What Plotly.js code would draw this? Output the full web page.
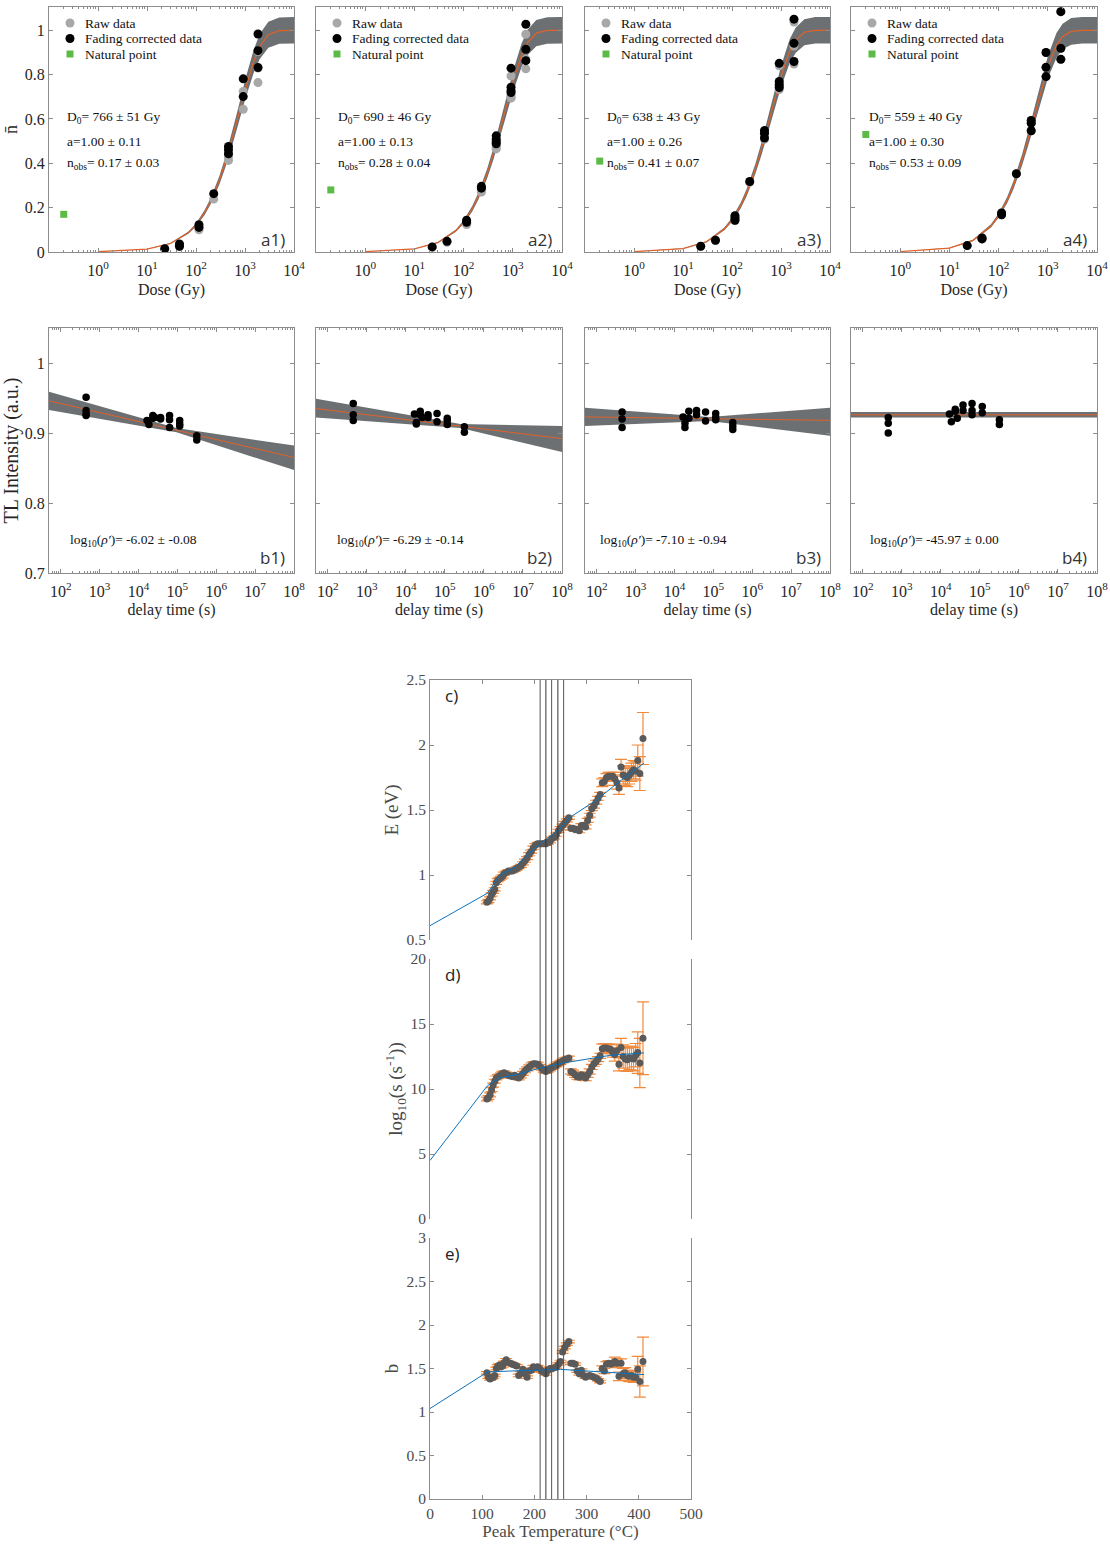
<!DOCTYPE html>
<html><head><meta charset="utf-8">
<script src="https://cdn.plot.ly/plotly-3.0.1.min.js"></script>
<style>html,body{margin:0;padding:0;background:#fff}</style>
</head><body><div id="chart" style="width:1110px;height:1544px"></div>
<script>
// ================= DATA =================
const doseTicks = [1, 10, 100, 1000, 10000];
const doseTickText = ['10<sup>0</sup>','10<sup>1</sup>','10<sup>2</sup>','10<sup>3</sup>','10<sup>4</sup>'];
const delayTicks = [1e2, 1e3, 1e4, 1e5, 1e6, 1e7, 1e8];
const delayTickText = ['10<sup>2</sup>','10<sup>3</sup>','10<sup>4</sup>','10<sup>5</sup>','10<sup>6</sup>','10<sup>7</sup>','10<sup>8</sup>'];

// dose response (a1-a4)
const a1Dose = [23,46,46,115,115,230,460,460,460,920,920,1840,1840,1840];
const a1Corr = [0.015,0.036,0.026,0.123,0.111,0.263,0.476,0.461,0.443,0.781,0.701,0.983,0.908,0.832];
const a1Raw  = [0.013,0.033,0.024,0.112,0.100,0.239,0.441,0.428,0.413,0.724,0.644,0.904,0.830,0.764];
const a2Dose = [23,46,115,115,230,230,460,460,460,460,920,920,920,920,1840,1840,1840];
const a2Corr = [0.023,0.048,0.143,0.134,0.296,0.288,0.524,0.509,0.498,0.488,0.829,0.743,0.728,0.719,1.027,0.914,0.863];
const a2Raw  = [0.021,0.044,0.130,0.124,0.278,0.270,0.490,0.480,0.470,0.465,0.794,0.710,0.700,0.694,0.982,0.870,0.826];
const a3Dose = [23,46,115,115,115,230,460,460,460,920,920,920,920,1840,1840,1840];
const a3Corr = [0.026,0.053,0.164,0.153,0.143,0.318,0.548,0.536,0.514,0.851,0.769,0.754,0.742,1.050,0.941,0.859];
const a3Raw  = [0.025,0.052,0.162,0.151,0.141,0.314,0.541,0.529,0.508,0.840,0.759,0.745,0.733,1.037,0.929,0.848];
const a4Dose = [23,46,46,115,115,230,460,460,460,920,920,920,1840,1840,1840];
const a4Corr = [0.029,0.063,0.059,0.176,0.168,0.353,0.593,0.581,0.547,0.900,0.833,0.791,1.084,0.919,0.869];
const a4Raw  = [0.029,0.063,0.059,0.176,0.168,0.353,0.593,0.581,0.547,0.900,0.833,0.791,1.084,0.919,0.869];
const naturalDose = [0.2, 0.2, 0.2, 0.2];
const naturalN = [0.17, 0.28, 0.41, 0.53];

const fitDose = [1,10,30,70,100,150,200,300,400,500,700,1000,1500,2000,3000,5000,10000];
const a1Fit = [0.0013,0.013,0.0384,0.0873,0.122,0.178,0.230,0.324,0.407,0.479,0.599,0.729,0.859,0.927,0.980,0.9985,1.0];
const a1Hi  = [0.0014,0.014,0.041,0.093,0.129,0.189,0.244,0.343,0.431,0.508,0.635,0.773,0.911,0.983,1.039,1.058,1.06];
const a1Lo  = [0.0012,0.012,0.036,0.082,0.115,0.167,0.216,0.305,0.383,0.450,0.563,0.685,0.807,0.871,0.921,0.939,0.94];
const a2Fit = [0.0014,0.0144,0.0426,0.0965,0.135,0.195,0.252,0.353,0.440,0.515,0.637,0.765,0.886,0.945,0.987,0.9993,1.0];
const a2Hi  = [0.0015,0.015,0.045,0.102,0.143,0.207,0.267,0.374,0.466,0.546,0.675,0.811,0.939,1.002,1.046,1.059,1.06];
const a2Lo  = [0.0013,0.014,0.040,0.091,0.127,0.183,0.237,0.332,0.414,0.484,0.599,0.719,0.833,0.888,0.928,0.939,0.94];
const a3Fit = [0.0016,0.0156,0.0459,0.104,0.145,0.209,0.269,0.375,0.466,0.543,0.666,0.791,0.905,0.956,0.991,0.9996,1.0];
const a3Hi  = [0.0017,0.017,0.049,0.110,0.154,0.222,0.285,0.398,0.494,0.576,0.706,0.838,0.959,1.013,1.050,1.06,1.06];
const a3Lo  = [0.0015,0.015,0.043,0.098,0.136,0.196,0.253,0.353,0.438,0.510,0.626,0.744,0.851,0.899,0.932,0.94,0.94];
const a4Fit = [0.0018,0.0177,0.0523,0.118,0.164,0.235,0.301,0.415,0.511,0.591,0.714,0.833,0.932,0.972,0.995,0.9999,1.0];
const a4Hi  = [0.0019,0.019,0.055,0.125,0.174,0.249,0.319,0.440,0.542,0.626,0.757,0.883,0.988,1.030,1.055,1.06,1.06];
const a4Lo  = [0.0017,0.017,0.049,0.111,0.154,0.221,0.283,0.390,0.480,0.556,0.671,0.783,0.876,0.914,0.935,0.94,0.94];

const aStats = [
  ['D<sub>0</sub>= 766 ± 51 Gy','a=1.00 ± 0.11','n<sub>obs</sub>= 0.17 ± 0.03'],
  ['D<sub>0</sub>= 690 ± 46 Gy','a=1.00 ± 0.13','n<sub>obs</sub>= 0.28 ± 0.04'],
  ['D<sub>0</sub>= 638 ± 43 Gy','a=1.00 ± 0.26','n<sub>obs</sub>= 0.41 ± 0.07'],
  ['D<sub>0</sub>= 559 ± 40 Gy','a=1.00 ± 0.30','n<sub>obs</sub>= 0.53 ± 0.09']
];
const aLabels = ['a1)','a2)','a3)','a4)'];
const legendNames = ['Raw data','Fading corrected data','Natural point'];

// fading (b1-b4)
const b1T = [450,450,450,450,16600,18600,23400,23400,26300,37000,37000,63000,63000,63000,115000,115000,115000,316000,316000];
const b1I = [0.951,0.932,0.927,0.925,0.918,0.912,0.925,0.921,0.922,0.922,0.920,0.925,0.919,0.908,0.918,0.913,0.910,0.896,0.890];
const b2T = [450,450,450,16600,18600,18600,23400,23400,26300,37000,37000,63000,63000,115000,115000,115000,316000,316000];
const b2I = [0.942,0.926,0.918,0.927,0.915,0.913,0.931,0.926,0.922,0.926,0.922,0.928,0.916,0.921,0.918,0.912,0.909,0.901];
const b3T = [450,450,450,16600,18600,18600,23400,23400,37000,37000,63000,63000,115000,115000,115000,316000,316000,316000];
const b3I = [0.930,0.920,0.908,0.923,0.914,0.908,0.931,0.921,0.932,0.926,0.930,0.917,0.928,0.922,0.919,0.915,0.910,0.905];
const b4T = [450,450,450,16600,18600,23400,23400,26300,37000,37000,63000,63000,63000,115000,115000,316000,316000];
const b4I = [0.922,0.914,0.900,0.927,0.916,0.934,0.931,0.921,0.940,0.932,0.942,0.932,0.926,0.938,0.929,0.919,0.912];
const bFitT = [50, 1e8];
const b1Fit = [0.946, 0.865];
const b2Fit = [0.935, 0.892];
const b3Fit = [0.923, 0.918];
const b4Fit = [0.926, 0.926];
const b1BandT = [50, 95000, 1e8];   const b1Hi = [0.959,0.907,0.882]; const b1Lo = [0.933,0.901,0.847];
const b2BandT = [50, 250000, 1e8];  const b2Hi = [0.949,0.913,0.910]; const b2Lo = [0.922,0.907,0.873];
const b3BandT = [50, 80000, 1e8];   const b3Hi = [0.936,0.923,0.936]; const b3Lo = [0.910,0.917,0.896];
const b4BandT = [50, 1e8];          const b4Hi = [0.930,0.930];       const b4Lo = [0.922,0.922];
const bStats = ['-6.02 ± -0.08','-6.29 ± -0.14','-7.10 ± -0.94','-45.97 ± 0.00'];
const bLabels = ['b1)','b2)','b3)','b4)'];

// kinetic parameters vs peak temperature (c, d, e)
const peakT = [109,112,115,118,121,124,127,130,133,136,139,142,
  146,150,154,158,162,166,170,174,178,182,186,190,194,198,202,206,210,214,218,222,226,230,234,238,
  242,246,250,254,258,262,266,270,274,278,282,286,290,294,298,302,306,310,314,318,322,326,330,334,
  338,342,346,350,354,358,362,366,370,374,378,382,386,390,394,398,402,408];
const energyE = [0.79,0.80,0.82,0.85,0.87,0.89,0.94,0.96,0.97,0.98,0.99,1.01,
  1.02,1.03,1.03,1.03,1.04,1.05,1.06,1.07,1.09,1.11,1.13,1.16,1.18,1.21,1.23,1.24,1.24,1.24,1.24,1.24,1.25,1.26,1.28,1.29,
  1.31,1.34,1.36,1.38,1.40,1.42,1.44,1.36,1.36,1.35,1.35,1.34,1.38,1.38,1.37,1.42,1.46,1.51,1.53,1.56,1.59,1.62,1.71,1.72,
  1.75,1.76,1.76,1.76,1.74,1.71,1.67,1.83,1.77,1.76,1.75,1.77,1.79,1.81,1.80,1.88,1.78,2.05];
const energyErr = [0.012,0.012,0.012,0.012,0.012,0.012,0.012,0.012,0.012,0.012,0.012,0.012,
  0.012,0.012,0.012,0.012,0.012,0.012,0.012,0.012,0.012,0.012,0.012,0.012,0.012,0.012,0.012,0.012,0.012,0.012,0.012,0.012,0.012,0.012,0.012,0.012,
  0.012,0.012,0.012,0.012,0.012,0.012,0.012,0.015,0.015,0.015,0.015,0.015,0.015,0.015,0.015,0.015,0.015,0.015,0.015,0.015,0.015,0.015,0.03,0.03,
  0.03,0.03,0.03,0.03,0.05,0.05,0.05,0.06,0.07,0.07,0.07,0.07,0.07,0.07,0.07,0.12,0.13,0.20];
const logS = [9.23,9.35,9.55,9.95,10.3,10.6,10.85,10.95,11.0,11.1,11.2,11.25,
  11.15,11.05,11.0,10.97,11.05,10.9,10.85,11.0,11.2,11.4,11.55,11.7,11.85,11.95,11.95,11.9,11.75,11.6,11.45,11.35,11.45,11.55,11.65,11.75,
  11.85,11.95,12.05,12.15,12.25,12.3,12.38,11.35,11.25,11.1,10.95,10.9,11.1,11.0,10.85,11.1,11.35,11.7,11.95,12.1,12.3,12.55,13.1,13.15,
  13.15,13.1,13.05,12.8,12.65,12.95,11.9,13.2,12.5,12.3,12.25,12.4,12.35,12.3,12.6,12.8,12.0,13.9];
const logSErr = [0.15,0.15,0.15,0.15,0.15,0.15,0.15,0.15,0.15,0.15,0.15,0.15,
  0.15,0.15,0.15,0.15,0.15,0.15,0.15,0.15,0.15,0.15,0.15,0.15,0.15,0.15,0.15,0.15,0.15,0.15,0.15,0.15,0.15,0.15,0.15,0.15,
  0.15,0.15,0.15,0.15,0.15,0.15,0.15,0.2,0.2,0.2,0.2,0.2,0.2,0.2,0.2,0.2,0.2,0.2,0.2,0.2,0.2,0.2,0.35,0.35,
  0.35,0.35,0.35,0.35,0.5,0.5,0.5,0.7,0.9,0.9,0.9,0.9,0.9,0.9,0.9,1.6,1.9,2.8];
const orderB = [1.45,1.40,1.38,1.39,1.40,1.42,1.50,1.53,1.54,1.52,1.53,1.57,
  1.60,1.57,1.56,1.55,1.54,1.53,1.42,1.45,1.49,1.44,1.40,1.47,1.48,1.52,1.51,1.52,1.50,1.47,1.46,1.44,1.48,1.50,1.50,1.51,
  1.52,1.55,1.58,1.69,1.74,1.78,1.81,1.56,1.56,1.55,1.47,1.44,1.48,1.42,1.40,1.41,1.42,1.41,1.40,1.39,1.37,1.35,1.50,1.47,
  1.55,1.56,1.55,1.56,1.58,1.56,1.41,1.56,1.44,1.45,1.42,1.41,1.42,1.40,1.40,1.49,1.35,1.58];
const orderBErr = [0.015,0.015,0.015,0.015,0.015,0.015,0.015,0.015,0.015,0.015,0.015,0.015,
  0.015,0.015,0.015,0.015,0.015,0.015,0.015,0.015,0.015,0.015,0.015,0.015,0.015,0.015,0.015,0.015,0.015,0.015,0.015,0.015,0.015,0.015,0.015,0.015,
  0.015,0.015,0.015,0.015,0.015,0.015,0.015,0.015,0.015,0.015,0.015,0.015,0.015,0.015,0.015,0.015,0.015,0.015,0.015,0.015,0.015,0.015,0.03,0.03,
  0.03,0.03,0.03,0.03,0.05,0.05,0.05,0.05,0.06,0.06,0.06,0.06,0.06,0.06,0.06,0.15,0.18,0.28];
const modelTE = [0,110,134,160,185,210,248,267,320,360,410];
const modelE  = [0.61,0.86,1.0,1.05,1.15,1.24,1.35,1.44,1.58,1.71,1.86];
const modelTS = [0,110,134,165,210,255,347,410];
const modelS  = [4.5,10.25,10.85,11.1,11.6,12.0,12.6,12.78];
const modelTB = [0,110,150,250,410];
const modelB  = [1.04,1.46,1.47,1.49,1.43];
const peakLines = [211, 222, 233, 245, 256];

// ================= LAYOUT / DRAW =================
const W = 1110, H = 1544;
const px = x => x / W, py = y => 1 - y / H;
const colL = [49, 316, 585, 851], colR = [294, 562, 830, 1097];
const SERIF = 'Liberation Serif, Times New Roman, serif';
const SANS = 'Open Sans, DejaVu Sans, sans-serif';
const AX = '#8c8c8c';
const tickFont = {family: SERIF, size: 16, color: '#262626'};
const titleFont = {family: SERIF, size: 16, color: '#262626'};
const ORANGE = '#e0622a', BAND = '#6d7072';

function minorLog(lo, hi) { const v = []; for (let e = lo; e < hi; e++) for (let m = 2; m <= 9; m++) v.push(m * Math.pow(10, e)); return v; }
function base() {
  return {showline: true, linecolor: AX, linewidth: 1, mirror: 'ticks', ticks: 'inside', ticklen: 4,
    tickcolor: AX, showgrid: false, zeroline: false, tickfont: tickFont, automargin: false};
}
const layout = {width: W, height: H, margin: {l: 0, r: 0, t: 0, b: 0}, showlegend: false,
  paper_bgcolor: '#fff', plot_bgcolor: '#fff', annotations: [], shapes: []};
const traces = [];
function ann(x, y, text, opt) {
  return Object.assign({xref: 'paper', yref: 'paper', x: px(x), y: py(y), text: text, showarrow: false,
    xanchor: 'left', yanchor: 'middle', font: {family: SERIF, size: 13.5, color: '#111'}}, opt || {});
}

const aData = [[a1Dose, a1Corr, a1Raw, a1Fit, a1Hi, a1Lo], [a2Dose, a2Corr, a2Raw, a2Fit, a2Hi, a2Lo],
               [a3Dose, a3Corr, a3Raw, a3Fit, a3Hi, a3Lo], [a4Dose, a4Corr, a4Raw, a4Fit, a4Hi, a4Lo]];
const statX = [16, 20, 20, 16];
for (let i = 0; i < 4; i++) {
  const s = i === 0 ? '' : String(i + 1);
  layout['xaxis' + s] = Object.assign(base(), {domain: [px(colL[i]), px(colR[i])], anchor: 'y' + s, type: 'log', range: [-1, 4],
    tickmode: 'array', tickvals: doseTicks, ticktext: doseTickText, ticklabelstandoff: 4,
    minor: {tickmode: 'array', tickvals: minorLog(-1, 4), ticks: 'inside', ticklen: 2, tickcolor: AX, showgrid: false},
    title: {text: 'Dose (Gy)', font: titleFont, standoff: 5}});
  const ya = Object.assign(base(), {domain: [py(252), py(7)], anchor: 'x' + s, range: [0, 1.105],
    tickmode: 'array', tickvals: [0, 0.2, 0.4, 0.6, 0.8, 1], showticklabels: i === 0});
  if (i === 0) ya.title = {text: 'n\u0304', font: {family: SERIF, size: 18, color: '#262626'}, standoff: 2};
  layout['yaxis' + s] = ya;
  const [d, c, r, f, hi, lo] = aData[i];
  const xa = 'x' + s, yax = 'y' + s;
  traces.push({x: fitDose, y: lo, xaxis: xa, yaxis: yax, mode: 'lines', line: {width: 0, color: BAND}, hoverinfo: 'skip'});
  traces.push({x: fitDose, y: hi, xaxis: xa, yaxis: yax, mode: 'lines', line: {width: 0, color: BAND}, fill: 'tonexty', fillcolor: BAND, hoverinfo: 'skip'});
  traces.push({x: fitDose, y: f, xaxis: xa, yaxis: yax, mode: 'lines', line: {width: 1.2, color: ORANGE}});
  traces.push({x: d, y: r, xaxis: xa, yaxis: yax, mode: 'markers', name: legendNames[0], marker: {size: 9, color: '#a8a8a8'}});
  traces.push({x: d, y: c, xaxis: xa, yaxis: yax, mode: 'markers', name: legendNames[1], marker: {size: 9, color: '#000'}});
  traces.push({x: [naturalDose[i]], y: [naturalN[i]], xaxis: xa, yaxis: yax, mode: 'markers', name: legendNames[2], cliponaxis: false,
    marker: {size: 7, symbol: 'square', color: '#5cba47'}});
  // legend (drawn)
  const L = colL[i];
  const legY = [23, 38.5, 54];
  const legCol = ['#a8a8a8', '#000', '#5cba47'];
  for (let k = 0; k < 3; k++) {
    layout.shapes.push({type: k === 2 ? 'rect' : 'circle', xref: 'paper', yref: 'paper', xsizemode: 'pixel', ysizemode: 'pixel',
      xanchor: px(L + 21), yanchor: py(legY[k]), x0: k === 2 ? -3.5 : -4.5, x1: k === 2 ? 3.5 : 4.5, y0: k === 2 ? -3.5 : -4.5, y1: k === 2 ? 3.5 : 4.5,
      fillcolor: legCol[k], line: {width: 0}});
    layout.annotations.push(ann(L + 34, legY[k], legendNames[k]));
  }
  layout.annotations.push(ann(L + statX[i], 117, aStats[i][0]));
  layout.annotations.push(ann(L + statX[i], 141, aStats[i][1]));
  layout.annotations.push(ann(L + statX[i], 163, aStats[i][2]));
  layout.annotations.push(ann(L + 238, 239, aLabels[i], {xanchor: 'right', font: {family: SANS, size: 17, color: '#333'}}));
}

const bData = [[b1T, b1I, b1Fit, b1BandT, b1Hi, b1Lo], [b2T, b2I, b2Fit, b2BandT, b2Hi, b2Lo],
               [b3T, b3I, b3Fit, b3BandT, b3Hi, b3Lo], [b4T, b4I, b4Fit, b4BandT, b4Hi, b4Lo]];
const bStatX = [19, 19, 13, 17];
for (let i = 0; i < 4; i++) {
  const s = String(i + 5);
  layout['xaxis' + s] = Object.assign(base(), {domain: [px(colL[i]), px(colR[i])], anchor: 'y' + s, type: 'log', range: [Math.log10(50), 8],
    tickmode: 'array', tickvals: delayTicks, ticktext: delayTickText, ticklabelstandoff: 4,
    minor: {tickmode: 'array', tickvals: minorLog(1, 8).filter(v => v >= 50), ticks: 'inside', ticklen: 2, tickcolor: AX, showgrid: false},
    title: {text: 'delay time (s)', font: titleFont, standoff: 4}});
  const ya = Object.assign(base(), {domain: [py(573), py(328)], anchor: 'x' + s, range: [0.7, 1.05],
    tickmode: 'array', tickvals: [0.7, 0.8, 0.9, 1], ticktext: ['0.7', '0.8', '0.9', '1'], showticklabels: i === 0});
  if (i === 0) ya.title = {text: 'TL Intensity (a.u.)', font: {family: SERIF, size: 20, color: '#262626'}, standoff: 0};
  layout['yaxis' + s] = ya;
  const [t, v, f, bt, hi, lo] = bData[i];
  const xa = 'x' + s, yax = 'y' + s;
  traces.push({x: bt, y: lo, xaxis: xa, yaxis: yax, mode: 'lines', line: {width: 0, color: BAND}, hoverinfo: 'skip'});
  traces.push({x: bt, y: hi, xaxis: xa, yaxis: yax, mode: 'lines', line: {width: 0, color: BAND}, fill: 'tonexty', fillcolor: BAND, hoverinfo: 'skip'});
  traces.push({x: bFitT, y: f, xaxis: xa, yaxis: yax, mode: 'lines', line: {width: 1, color: ORANGE}});
  traces.push({x: t, y: v, xaxis: xa, yaxis: yax, mode: 'markers', marker: {size: 7.5, color: '#000'}});
  const L = colL[i];
  layout.annotations.push(ann(L + bStatX[i], 540, 'log<sub>10</sub>(<i>ρ′</i>)= ' + bStats[i]));
  layout.annotations.push(ann(L + 238, 558, bLabels[i], {xanchor: 'right', font: {family: SANS, size: 17, color: '#333'}}));
}

// c, d, e
const cdeTop = [680, 959, 1238], cdeBot = [940, 1219, 1499];
const cdeRange = [[0.5, 2.5], [0, 20], [0, 3]];
const cdeDtick = [0.5, 5, 0.5];
const cdeTitles = ['E (eV)', 'log<sub>10</sub>(s (s<sup>-1</sup>))', 'b'];
const cdeY = [energyE, logS, orderB], cdeErr = [energyErr, logSErr, orderBErr];
const cdeModX = [modelTE, modelTS, modelTB], cdeModY = [modelE, modelS, modelB];
const cdeLab = ['c)', 'd)', 'e)'];
const tickFont2 = {family: SERIF, size: 15.5, color: '#4a4a4a'};
for (let k = 0; k < 3; k++) {
  const s = String(k + 9);
  const xa = Object.assign(base(), {domain: [px(430), px(691)], anchor: 'y' + s, range: [0, 500], dtick: 100, tick0: 0, mirror: false, tickfont: tickFont2});
  if (k === 0) Object.assign(xa, {side: 'top', showticklabels: false});
  if (k === 1) Object.assign(xa, {showline: false, ticks: '', showticklabels: false});
  if (k === 2) xa.title = {text: 'Peak Temperature (°C)', font: {family: SERIF, size: 17, color: '#4a4a4a'}, standoff: 4};
  layout['xaxis' + s] = xa;
  layout['yaxis' + s] = Object.assign(base(), {domain: [py(cdeBot[k]), py(cdeTop[k])], anchor: 'x' + s, range: cdeRange[k],
    dtick: cdeDtick[k], tick0: 0, tickfont: tickFont2,
    title: {text: cdeTitles[k], font: {family: SERIF, size: 19, color: '#4a4a4a'}, standoff: 2}});
  traces.push({x: peakT, y: cdeY[k], xaxis: 'x' + s, yaxis: 'y' + s, mode: 'markers',
    error_y: {type: 'data', array: cdeErr[k], visible: true, color: '#f28a3c', thickness: 1.2, width: 6},
    marker: {size: 7, color: '#5a5a5a'}});
  traces.push({x: cdeModX[k], y: cdeModY[k], xaxis: 'x' + s, yaxis: 'y' + s, mode: 'lines', line: {color: '#0a72bd', width: 1}});
  layout.annotations.push(ann(443, cdeTop[k] + 15, cdeLab[k], {font: {family: SANS, size: 17, color: '#222'}}));
}
peakLines.forEach((t, j) => {
  layout.shapes.push({type: 'line', xref: 'x11', yref: 'paper', x0: t, x1: t, y0: py(1499), y1: py(680),
    line: {color: j % 2 ? '#333' : '#555', width: 1}});
});

Plotly.newPlot('chart', traces, layout, {displayModeBar: false});
</script>
</body></html>
